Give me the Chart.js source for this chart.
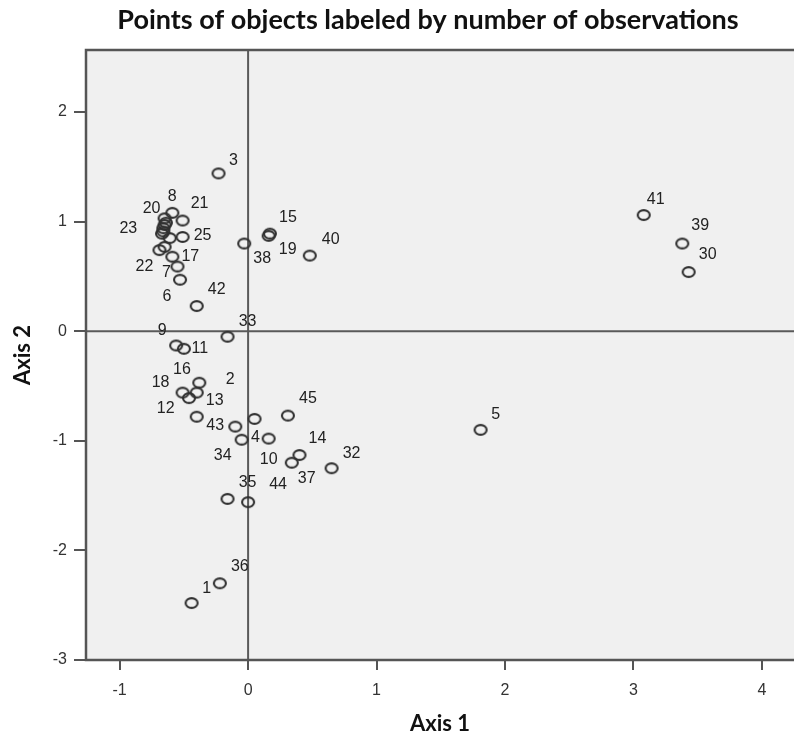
<!DOCTYPE html>
<html lang="en">
<head>
<meta charset="UTF-8">
<title>Points of objects</title>
<script src="https://cdn.jsdelivr.net/npm/chart.js"></script>
<style>
  body { margin: 0; background: #fff; }
  #wrap { width: 794px; height: 737px; }
</style>
</head>
<body>
<div id="wrap"><canvas id="objPlot" width="794" height="737"></canvas></div>
<script>
// object scores, one entry per observation
const obsNumbers = [1, 2, 3, 4, 5, 6, 7, 8, 9, 10, 11, 12, 13, 14, 15, 16, 17, 18, 19, 20, 21, 22, 23,
                    24, 25, 26, 27, 28, 29, 30, 31, 32, 33, 34, 35, 36, 37, 38, 39, 40, 41, 42, 43, 44, 45];
const axis1Scores = [-0.44, -0.38, -0.23, 0.05, 1.81, -0.53, -0.55, -0.59, -0.56, 0.16, -0.50, -0.40, -0.40,
                     0.40, 0.17, -0.46, -0.59, -0.51, 0.16, -0.65, -0.51, -0.69, -0.66, -0.65, -0.51, -0.66,
                     -0.67, -0.61, -0.65, 3.43, -0.64, 0.65, -0.16, -0.05, -0.16, -0.22, 0.34, -0.03, 3.38,
                     0.48, 3.08, -0.40, -0.10, 0.00, 0.31];
const axis2Scores = [-2.48, -0.47, 1.44, -0.80, -0.90, 0.47, 0.59, 1.08, -0.13, -0.98, -0.16, -0.78, -0.56,
                     -1.13, 0.89, -0.61, 0.68, -0.56, 0.87, 1.03, 1.01, 0.74, 0.94, 0.97, 0.86, 0.91,
                     0.89, 0.85, 0.77, 0.54, 0.99, -1.25, -0.05, -0.99, -1.53, -2.30, -1.20, 0.80, 0.80,
                     0.69, 1.06, 0.23, -0.87, -1.56, -0.77];
const xTickValues = [-1, 0, 1, 2, 3, 4];
const yTickValues = [-3, -2, -1, 0, 1, 2];

// labels that would sit on top of others in the dense cluster are left out
const unlabeled = [24, 26, 27, 28, 29, 31];
// pixel nudges of each number label away from its point (default: up and right)
const labelNudge = {
  1: [15, -14], 2: [31, -3], 3: [15, -13], 4: [1, 19], 5: [15, -15], 6: [-13, 17], 7: [-11, 6],
  8: [0, -16], 9: [-14, -15], 10: [0, 21], 11: [16, 0], 12: [-31, -8], 13: [18, 8], 14: [18, -16],
  15: [18, -16], 16: [-7, -28], 17: [18, 0], 18: [-22, -10], 19: [19, 14], 20: [-13, -10],
  21: [17, -17], 22: [-15, 16], 23: [-35, 0], 25: [20, -1], 30: [19, -17], 32: [20, -15],
  33: [20, -15], 34: [-19, 16], 35: [20, -16], 36: [20, -17], 37: [15, 16], 38: [18, 15],
  39: [18, -18], 40: [21, -16], 41: [12, -15], 42: [20, -16], 43: [-20, -1], 44: [30, -18],
  45: [20, -17]
};

// hollow, slightly flattened ring used as the point marker
const ring = document.createElement('canvas');
ring.width = 18; ring.height = 16;
const rc = ring.getContext('2d');
rc.strokeStyle = '#303030';
rc.lineWidth = 2.1;
rc.beginPath();
rc.ellipse(9, 8, 6.0, 4.9, 0, 0, Math.PI * 2);
rc.stroke();

const plotFrame = {
  id: 'plotFrame',
  beforeDraw(chart) {
    const { ctx, chartArea: a } = chart;
    ctx.save();
    ctx.fillStyle = '#f0f0f0';
    ctx.fillRect(a.left, a.top, a.right - a.left, a.bottom - a.top);
    ctx.restore();
  },
  beforeDatasetsDraw(chart) {
    const { ctx, chartArea: a, scales } = chart;
    const x0 = scales.x.getPixelForValue(0);
    const y0 = scales.y.getPixelForValue(0);
    ctx.save();
    ctx.strokeStyle = '#5a5a5a';
    ctx.lineWidth = 2;
    ctx.beginPath();
    ctx.moveTo(x0, a.top); ctx.lineTo(x0, a.bottom);
    ctx.moveTo(a.left, y0); ctx.lineTo(a.right, y0);
    ctx.stroke();
    ctx.restore();
  },
  afterDatasetsDraw(chart) {
    const { ctx, chartArea: a } = chart;
    ctx.save();
    ctx.strokeStyle = '#555';
    ctx.lineWidth = 2.5;
    // the plot box runs on past the right edge of the canvas
    ctx.strokeRect(a.left, a.top, a.right - a.left + 10, a.bottom - a.top);

    // observation numbers next to the points
    ctx.fillStyle = '#222';
    ctx.font = '16px "Liberation Sans", Arial, sans-serif';
    ctx.textAlign = 'center';
    ctx.textBaseline = 'middle';
    const meta = chart.getDatasetMeta(0);
    meta.data.forEach((pt, i) => {
      const n = obsNumbers[i];
      if (unlabeled.includes(n)) return;
      const [dx, dy] = labelNudge[n] || [15, -15];
      ctx.fillText(String(n), pt.x + dx, pt.y + dy);
    });
    ctx.restore();
  },
  afterDraw(chart) {
    const ctx = chart.ctx;
    ctx.save();
    ctx.fillStyle = '#111';
    ctx.font = 'bold 27px Lato, sans-serif';
    ctx.textAlign = 'center';
    ctx.textBaseline = 'alphabetic';
    ctx.fillText('Points of objects labeled by number of observations', 428, 29);
    ctx.restore();
  }
};

const points = obsNumbers.map((n, i) => ({ x: axis1Scores[i], y: axis2Scores[i] }));

new Chart(document.getElementById('objPlot'), {
  type: 'scatter',
  data: {
    datasets: [{
      data: points,
      pointStyle: ring,
      pointRadius: 7,
      pointHoverRadius: 7
    }]
  },
  options: {
    responsive: false,
    animation: false,
    layout: { autoPadding: false, padding: { top: 50, left: 0, right: 0, bottom: 0 } },
    plugins: {
      legend: { display: false },
      tooltip: { enabled: false },
      title: { display: false }
    },
    scales: {
      x: {
        type: 'linear',
        min: -1.262,
        max: 4.25,
        afterBuildTicks: s => { s.ticks = xTickValues.map(v => ({ value: v })); },
        afterFit: s => { s.height = 77; s.paddingLeft = 0; s.paddingRight = 0; },
        border: { display: false },
        grid: { drawOnChartArea: false, drawTicks: true, tickLength: 10, color: '#555', lineWidth: 2 },
        ticks: { color: '#333', font: { family: 'Liberation Sans', size: 16 }, padding: 11, maxRotation: 0 },
        title: {
          display: true, text: 'Axis 1', color: '#111',
          font: { family: 'Lato', weight: 'bold', size: 22 },
          padding: { top: 0, bottom: 0 }
        }
      },
      y: {
        type: 'linear',
        min: -3,
        max: 2.566,
        afterBuildTicks: s => { s.ticks = yTickValues.map(v => ({ value: v })); },
        afterFit: s => { s.width = 86; s.paddingTop = 0; s.paddingBottom = 0; },
        border: { display: false },
        grid: { drawOnChartArea: false, drawTicks: true, tickLength: 12, color: '#555', lineWidth: 2 },
        ticks: { color: '#333', font: { family: 'Liberation Sans', size: 16 }, padding: 7 },
        title: {
          display: true, text: 'Axis 2', color: '#111',
          font: { family: 'Lato', weight: 'bold', size: 22 },
          padding: { top: 10, bottom: 0 }
        }
      }
    }
  },
  plugins: [plotFrame]
});
</script>
</body>
</html>
